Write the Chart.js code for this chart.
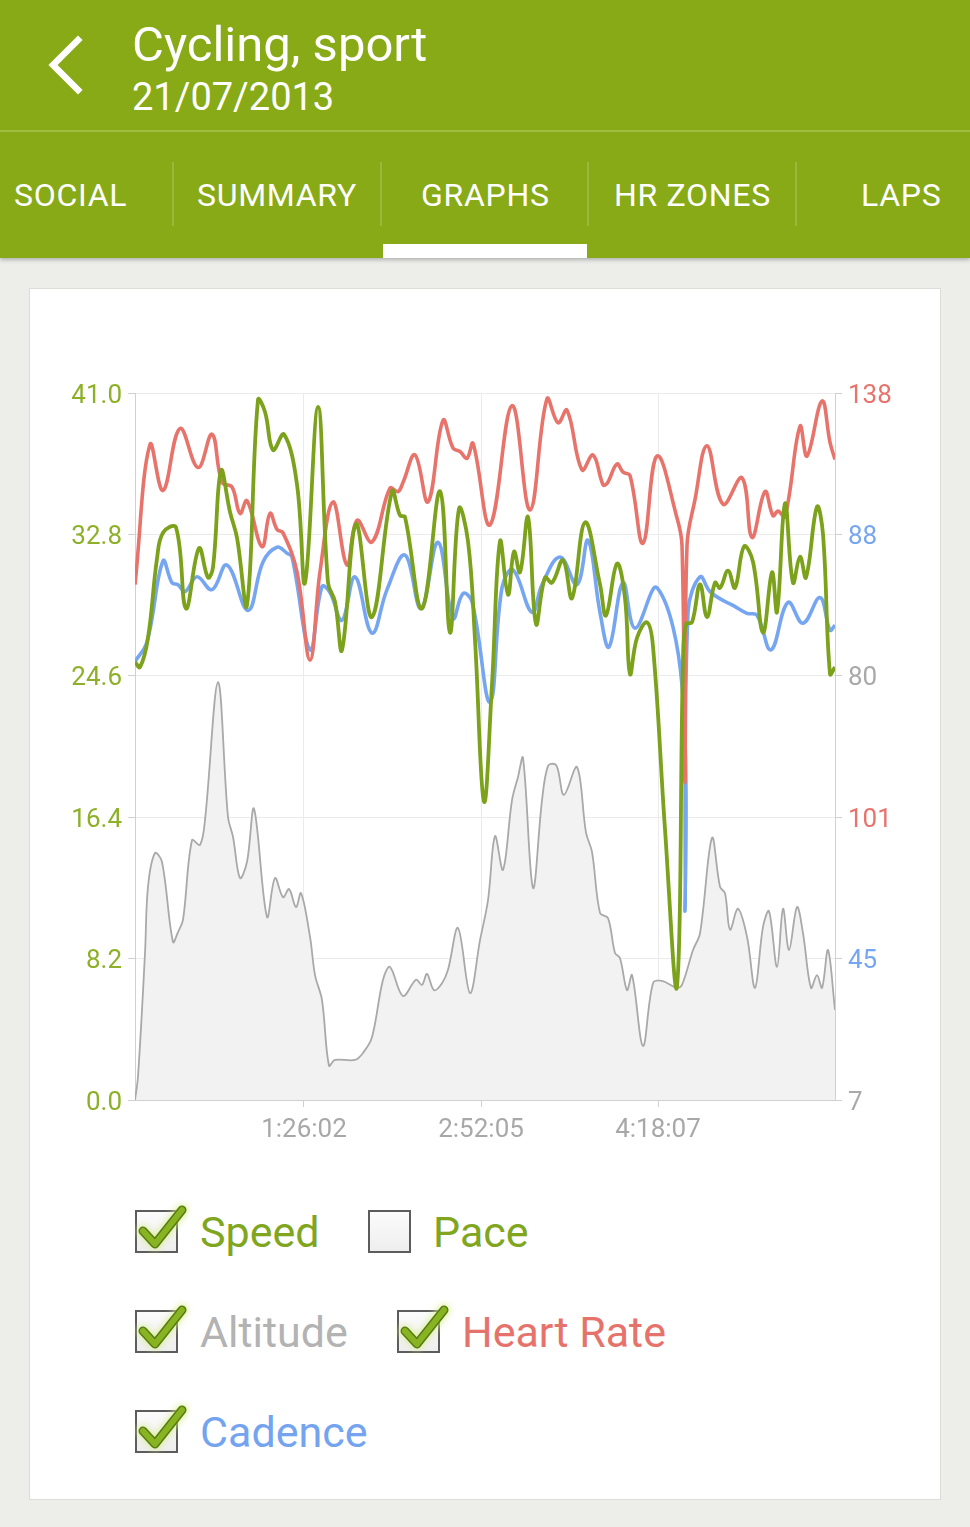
<!DOCTYPE html>
<html>
<head>
<meta charset="utf-8">
<script src="https://cdn.jsdelivr.net/npm/chart.js@4.4.0/dist/chart.umd.min.js"></script>
<style>
html,body{margin:0;padding:0;}
body{width:970px;height:1527px;background:#ededea;position:relative;overflow:hidden;font-family:Roboto,'Noto Sans',sans-serif;}
.abs{position:absolute;white-space:nowrap;line-height:1;}
#header{position:absolute;left:0;top:0;width:970px;height:258px;background:#87aa16;box-shadow:0 2px 4px rgba(0,0,0,0.25);}
.sep{position:absolute;left:0;top:130px;width:970px;height:2px;background:#9fbd40;}
.div{position:absolute;top:162px;width:2px;height:64px;background:#9ab83a;}
.tab{position:absolute;top:179px;font-size:32px;color:#fff;line-height:1;white-space:nowrap;letter-spacing:0.7px;}
#card{position:absolute;left:29px;top:288px;width:910px;height:1210px;background:#fff;border:1px solid #dcdcd8;}
.box{position:absolute;width:39px;height:39px;border:2px solid #5c5c5c;background:linear-gradient(#fbfbfb,#eeeeee);}
.lg{position:absolute;font-size:43px;line-height:1;white-space:nowrap;}
</style>
</head>
<body>
<div id="header">
  <svg class="abs" style="left:40px;top:30px" width="60" height="72" viewBox="0 0 60 72">
    <polyline points="38,10 13,35 38,60" fill="none" stroke="#fff" stroke-width="6.5" stroke-linecap="square"/>
  </svg>
  <div class="abs" style="left:132px;top:20px;font-size:49px;color:#fff;">Cycling, sport</div>
  <div class="abs" style="left:132px;top:78px;font-size:38px;color:#fff;">21/07/2013</div>
  <div class="sep"></div>
  <div class="tab" style="left:14px">SOCIAL</div>
  <div class="div" style="left:172px"></div>
  <div class="tab" style="left:197px">SUMMARY</div>
  <div class="div" style="left:380px"></div>
  <div class="tab" style="left:421px">GRAPHS</div>
  <div class="div" style="left:587px"></div>
  <div class="tab" style="left:614px">HR ZONES</div>
  <div class="div" style="left:795px"></div>
  <div class="tab" style="left:861px">LAPS</div>
  <div class="abs" style="left:383px;top:244px;width:204px;height:14px;background:#fff;"></div>
</div>

<div id="card"></div>

<div class="abs" style="left:40px;top:370px;width:880px;height:780px;">
  <canvas id="c" width="880" height="780"></canvas>
</div>

<!-- legend -->
<div class="box" style="left:135px;top:1210px"></div>
<div class="lg" style="left:200px;top:1211px;color:#7fa61e">Speed</div>
<div class="box" style="left:368px;top:1210px"></div>
<div class="lg" style="left:433px;top:1211px;color:#7fa61e">Pace</div>
<div class="box" style="left:135px;top:1310px"></div>
<div class="lg" style="left:200px;top:1311px;color:#b3b3b3">Altitude</div>
<div class="box" style="left:397px;top:1310px"></div>
<div class="lg" style="left:462px;top:1311px;color:#e6736b">Heart Rate</div>
<div class="box" style="left:135px;top:1410px"></div>
<div class="lg" style="left:200px;top:1411px;color:#74a4f0">Cadence</div>

<svg class="abs" style="left:0;top:0" width="970" height="1527" id="checks">
  <defs>
    <filter id="glow" x="-50%" y="-50%" width="200%" height="200%">
      <feGaussianBlur stdDeviation="3"/>
    </filter>
    <g id="ck">
      <path d="M7,27 L19,40 L46,6" fill="none" stroke="#d8ec90" stroke-width="12" stroke-linecap="round" stroke-linejoin="round" filter="url(#glow)" opacity="0.8"/>
      <path d="M7,27 L19,40 L46,6" fill="none" stroke="#557c0c" stroke-width="9" stroke-linecap="round" stroke-linejoin="round"/>
      <path d="M7,27 L19,40 L46,6" fill="none" stroke="#88b424" stroke-width="6" stroke-linecap="round" stroke-linejoin="round"/>
    </g>
  </defs>
  <use href="#ck" x="136" y="1204"/>
  <use href="#ck" x="136" y="1304"/>
  <use href="#ck" x="398" y="1304"/>
  <use href="#ck" x="136" y="1404"/>
</svg>

<script>
// ---------------- data ----------------
const timeStart = 233;     // seconds
const timeEnd = 20649;     // seconds
const timeTickSeconds = [5162, 10325, 15487];
const timeTickLabels = ['1:26:02', '2:52:05', '4:18:07'];

const speedTicks = [0, 8.2, 16.4, 24.6, 32.8, 41.0];
const altTickValues = [7, 80];   const altTickSlots = [0, 3];
const cadTickValues = [45, 88];  const cadTickSlots = [1, 4];
const hrTickValues = [101, 138]; const hrTickSlots = [2, 5];

const speedTime = [233,379,612,875,1050,1429,1720,2100,2362,2508,2741,3004,3208,3500,3820,4025,4258,4579,4958,5191,5571,5862,6066,6270,6679,7145,7729,7962,8108,8604,9129,9420,9683,9945,10149,10412,10645,10879,11112,11287,11462,11695,11929,12191,12395,12716,12979,13358,13795,13970,14291,14524,14670,14874,15166,15341,15691,16041,16216,16303,16478,16712,16916,17149,17295,17528,17733,17995,18258,18549,18812,18958,19191,19424,19628,19803,20124,20299,20503,20649];
const speedKmh = [25.4,25.1,26.8,31.4,32.9,33.2,28.5,32.0,30.3,30.9,36.5,34.1,32.6,28.7,40.6,39.9,37.7,38.6,35.7,30.0,40.2,30.0,28.9,26.1,33.4,28.0,35.3,33.9,33.8,28.5,35.3,27.1,34.3,32.4,26.7,17.3,24.1,32.4,29.3,31.8,30.6,33.8,27.6,30.3,30.0,31.3,29.1,33.5,29.9,28.1,31.1,29.1,24.7,26.8,27.7,26.3,15.7,6.6,25.5,27.6,27.7,29.9,28.0,30.0,29.7,30.7,29.7,32.1,31.2,27.1,30.6,28.3,34.6,30.0,31.5,30.3,34.4,32.8,24.7,25.1];

const hrTime = [233,670,1050,1545,2070,2479,2770,3062,3295,3500,3937,4170,4375,4550,4958,5337,5629,6008,6416,6708,7145,7670,7904,8049,8399,8779,9216,9508,9712,9916,10091,10587,11229,11754,12249,12570,12833,13270,13591,13883,13999,14291,14466,14670,15049,15458,16041,16187,16274,16333,16566,16916,17383,17937,18228,18608,18841,18987,19191,19628,19833,20270,20503,20649];
const hrBpm = [121.3,133.5,129.5,134.9,131.5,134.4,130.2,129.8,127.5,128.6,124.6,127.5,126.1,125.8,122.4,114.7,122.4,128.5,123.0,126.9,125.0,129.7,129.4,130.2,132.6,128.5,135.6,133.2,132.9,132.3,133.6,126.5,136.9,127.8,137.5,135.4,136.5,131.3,132.6,130.0,130.1,131.8,131.1,130.8,124.9,132.5,127.1,124.7,104.0,124.7,128.7,133.4,128.3,130.6,125.4,129.4,127.3,127.7,127.2,135.1,132.5,137.3,133.7,132.2];

const cadTime = [233,583,1050,1312,1487,1691,2041,2479,2916,3529,3966,4375,4666,4812,5337,5687,5920,6270,6650,7145,7583,8108,8574,9070,9508,9799,10062,10587,10937,11258,11812,12104,12629,13124,13445,13795,14058,14466,14816,15458,16187,16274,16362,16712,17003,17441,17674,18083,18374,18783,19278,19716,20212,20503,20649];
const cadRpm = [75.1,77.1,85.3,83.1,82.9,82.2,83.7,82.4,84.9,80.3,85.2,86.7,86.1,85.7,76.3,82.7,82.1,79.3,83.7,78.0,82.4,85.9,80.5,87.2,79.5,82.0,81.2,71.0,82.6,84.4,80.1,82.9,85.7,82.9,87.4,80.1,76.6,83.1,78.5,82.6,72.7,49.9,80.1,83.7,82.2,81.2,80.8,80.0,79.8,76.3,81.1,79.0,81.6,78.3,78.8];

const altTime = [233,320,525,612,816,1020,1341,1487,1633,1895,2129,2275,2654,2945,3091,3295,3500,3704,4083,4316,4550,4725,4929,5075,5337,5483,5687,5891,6066,6650,6883,7145,7466,7670,8049,8429,8604,8749,8954,9187,9362,9654,10003,10296,10529,10733,10966,11229,11404,11549,11841,12104,12279,12483,12570,12746,13124,13387,13562,13795,14029,14233,14379,14583,14729,15049,15341,15603,16041,16187,16508,16712,17062,17295,17441,17587,17820,18083,18316,18549,18724,18958,19133,19308,19541,19716,19949,20124,20270,20445,20649];
const altM = [7.0,11.0,32.3,43.7,49.5,48.0,34.2,35.9,38.0,51.7,50.9,55.2,78.9,55.7,52.3,45.2,48.0,57.1,38.5,45.2,41.9,43.3,40.2,42.6,35.1,28.5,24.2,12.9,13.9,13.9,15.1,17.8,27.7,29.9,24.9,27.7,26.8,28.7,25.9,27.1,29.4,36.6,25.4,34.5,41.4,52.4,46.6,58.6,62.6,65.9,43.5,58.6,64.5,64.8,63.8,59.5,64.3,53.0,49.7,39.2,38.3,32.3,31.4,25.9,28.5,16.3,27.1,27.5,26.3,26.8,32.8,35.7,52.1,43.7,42.6,36.3,39.9,35.1,26.3,36.8,39.5,29.9,39.9,32.8,40.2,35.7,26.3,28.5,26.3,32.8,22.5];

// ---------------- styles ----------------
const SPEED_C = '#7ba21a';
const SPEED_TXT = '#8db028';
const HR_C = '#e7736b';
const CAD_C = '#76a6f1';
const ALT_C = '#a9a9a9';
const ALT_FILL = '#f2f2f2';
const GRID_C = '#ebebeb';
const AXIS_C = '#d0d0d0';
const TICK_FONT = {family: 'Roboto', size: 26};

function rangeFrom(values, slots) {
  const per = (values[1] - values[0]) / (slots[1] - slots[0]);
  const min = values[0] - slots[0] * per;
  return {min: min, max: min + (speedTicks.length - 1) * per};
}
const altRange = rangeFrom(altTickValues, altTickSlots);
const cadRange = rangeFrom(cadTickValues, cadTickSlots);
const hrRange = rangeFrom(hrTickValues, hrTickSlots);

const rightLabels = [], rightColors = [];
[[altTickValues, altTickSlots, ALT_C], [cadTickValues, cadTickSlots, CAD_C], [hrTickValues, hrTickSlots, HR_C]]
  .forEach(([vals, slots, col]) => slots.forEach((s, i) => { rightLabels[s] = String(vals[i]); rightColors[s] = col; }));

const pts = (ts, vs) => ts.map((t, i) => ({x: t, y: vs[i]}));

new Chart(document.getElementById('c'), {
  type: 'line',
  data: {
    datasets: [
      {label: 'Speed', data: pts(speedTime, speedKmh), yAxisID: 'y', borderColor: SPEED_C, borderWidth: 3.8, pointRadius: 0, tension: 0.4, fill: false},
      {label: 'Heart Rate', data: pts(hrTime, hrBpm), yAxisID: 'yHR', borderColor: HR_C, borderWidth: 3.6, pointRadius: 0, tension: 0.4, fill: false},
      {label: 'Cadence', data: pts(cadTime, cadRpm), yAxisID: 'yCad', borderColor: CAD_C, borderWidth: 3.6, pointRadius: 0, tension: 0.4, fill: false},
      {label: 'Altitude', data: pts(altTime, altM), yAxisID: 'yAlt', borderColor: ALT_C, borderWidth: 1.8, pointRadius: 0, tension: 0.35, fill: 'start', backgroundColor: ALT_FILL}
    ]
  },
  options: {
    responsive: false,
    animation: false,
    layout: {padding: {top: 23, left: 0, right: 0, bottom: 0}},
    plugins: {legend: {display: false}, tooltip: {enabled: false}},
    scales: {
      x: {
        type: 'linear', min: timeStart, max: timeEnd,
        afterBuildTicks: s => { s.ticks = timeTickSeconds.map(v => ({value: v})); },
        afterFit: s => { s.height = 50; },
        ticks: {callback: (v, i) => timeTickLabels[i], color: '#a8a8a8', font: TICK_FONT, padding: 8, maxRotation: 0, autoSkip: false},
        grid: {color: GRID_C, tickColor: AXIS_C, tickLength: 7},
        border: {color: AXIS_C}
      },
      y: {
        position: 'left', min: speedTicks[0], max: speedTicks[speedTicks.length - 1],
        afterBuildTicks: s => { s.ticks = speedTicks.map(v => ({value: v})); },
        afterFit: s => { s.width = 95; },
        ticks: {callback: v => Number(v).toFixed(1), color: SPEED_TXT, font: TICK_FONT, padding: 6, labelOffset: 3},
        grid: {color: GRID_C, tickColor: AXIS_C, tickLength: 7},
        border: {color: AXIS_C}
      },
      yRight: {
        position: 'right', min: 0, max: speedTicks.length - 1,
        afterBuildTicks: s => { s.ticks = speedTicks.map((v, i) => ({value: i})); },
        afterFit: s => { s.width = 85; },
        ticks: {callback: (v, i) => rightLabels[i], color: ctx => rightColors[ctx.index], font: TICK_FONT, padding: 6, labelOffset: 3},
        grid: {drawOnChartArea: false, tickColor: AXIS_C, tickLength: 7},
        border: {color: AXIS_C}
      },
      yHR: {display: false, min: hrRange.min, max: hrRange.max},
      yCad: {display: false, min: cadRange.min, max: cadRange.max},
      yAlt: {display: false, min: altRange.min, max: altRange.max}
    }
  }
});
</script>
</body>
</html>
